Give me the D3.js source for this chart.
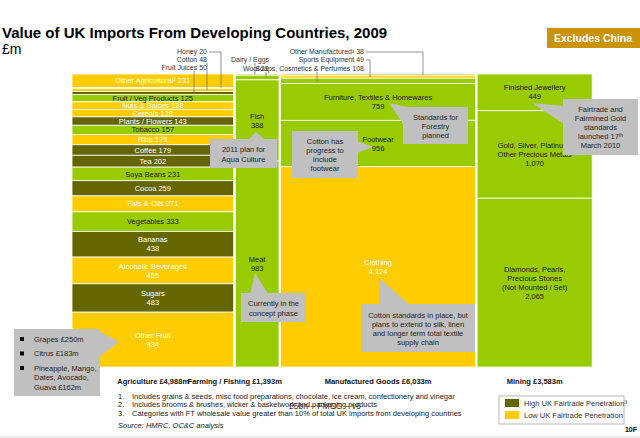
<!DOCTYPE html>
<html>
<head>
<meta charset="utf-8">
<script src="https://cdn.jsdelivr.net/npm/d3@7"></script>
<style>
  body { margin: 0; background: #fff; }
  text { font-family: "Liberation Sans", Arial, sans-serif; }
</style>
</head>
<body>
<div class="chart"></div>
<script>
// ---- data ----
let columnNames = ["Agriculture", "Farming / Fishing", "Manufactured Goods", "Mining"];
let columnTotals = [4988, 1393, 6033, 3583];

let agriNames = ["Other Agricultural¹", "Honey", "Cotton", "Fruit Juices", "Fruit / Veg Products",
  "Nuts & Spices", "Cereals", "Plants / Flowers", "Tobacco", "Rice", "Coffee", "Tea", "Soya Beans",
  "Cocoa", "Fats & Oils", "Vegetables", "Bananas", "Alcoholic Beverages", "Sugars", "Other Fruit"];
let agriValues = [231, 20, 48, 50, 125, 128, 128, 143, 157, 175, 179, 202, 231, 259, 271, 333, 438, 455, 483, 934];
let agriLevels = ["low", "low", "low", "high", "none", "low", "low", "high", "none", "low", "high",
  "high", "none", "high", "low", "none", "high", "low", "high", "low"];

let fishNames = ["Dairy / Eggs", "Wool", "Fish", "Meat"];
let fishValues = [6, 22, 388, 983];
let fishLevels = ["none", "none", "none", "none"];

let manuNames = ["Other Manufactured²", "Sports Equipment", "Soaps, Cosmetics & Perfumes",
  "Furniture, Textiles & Homewares", "Footwear", "Clothing"];
let manuValues = [38, 49, 108, 759, 956, 4124];
let manuLevels = ["low", "low", "none", "none", "none", "low"];

let miningNames = ["Finished Jewellery", "Gold, Silver, Platinum,\nOther Precious Metals",
  "Diamonds, Pearls,\nPrecious Stones\n(Not Mounted / Set)"];
let miningValues = [449, 1070, 2065];
let miningLevels = ["none", "none", "none"];

let legendLabels = ["High UK Fairtrade Penetration³", "Low UK Fairtrade Penetration"];
let footnotes = [
  "Includes grains & seeds, misc food preparations, chocolate, ice cream, confectionery and vinegar",
  "Includes brooms & brushes, wicker & basketwork and packaging products",
  "Categories with FT wholesale value greater than 10% of total UK imports from developing countries"
];
let otherFruitBullets = ["Grapes £250m", "Citrus £183m", "Pineapple, Mango,\nDates, Avocado,\nGuava £162m"];

// ---- layout ----
let svgW = 640, svgH = 438;
let plotTop = 74, plotBottom = 367, plotLeft = 72, plotRight = 593;

let color = d3.scaleOrdinal()
  .domain(["high", "low", "none"])
  .range(["#666600", "#FFCC00", "#99CC00"]);
let textColor = d3.scaleOrdinal()
  .domain(["high", "low", "none"])
  .range(["#ffffff", "#ffffff", "#1a1a1a"]);

let svg = d3.select(".chart").append("svg")
  .attr("width", svgW).attr("height", svgH);

// title
svg.append("text").attr("x", 2).attr("y", 38)
  .style("font-size", "15px").style("font-weight", "bold").attr("fill", "#000")
  .text("Value of UK Imports From Developing Countries, 2009");
svg.append("text").attr("x", 2).attr("y", 54)
  .style("font-size", "14px").attr("fill", "#000").text("£m");

// Excludes China badge
svg.append("rect").attr("x", 547).attr("y", 28).attr("width", 93).attr("height", 20).attr("fill", "#C9930A");
svg.append("text").attr("x", 593).attr("y", 42).attr("text-anchor", "middle")
  .style("font-size", "10.5px").style("font-weight", "bold").attr("fill", "#fff").text("Excludes China");

// ---- mosaic ----
let columns = [
  { names: agriNames, values: agriValues, levels: agriLevels },
  { names: fishNames, values: fishValues, levels: fishLevels },
  { names: manuNames, values: manuValues, levels: manuLevels },
  { names: miningNames, values: miningValues, levels: miningLevels }
];

let xScale = d3.scaleLinear()
  .domain([0, d3.sum(columnTotals)])
  .range([plotLeft, plotRight]);

let fmt = d3.format(",");
let segY = {}; // name -> segment geometry
let cum = 0;
let mosaic = svg.append("g");

columns.forEach(function(col, ci) {
  let x0 = xScale(cum) + (ci > 0 ? 0.8 : 0);
  let x1 = xScale(cum + columnTotals[ci]) - 0.8;
  cum += columnTotals[ci];
  let yScale = d3.scaleLinear().domain([0, d3.sum(col.values)]).range([plotTop, plotBottom]);
  let starts = d3.cumsum(col.values).map((c, i) => c - col.values[i]);
  let segs = col.names.map((n, i) => ({
    name: n, value: col.values[i], level: col.levels[i],
    y0: yScale(starts[i]), y1: yScale(starts[i] + col.values[i]), x0: x0, x1: x1
  }));

  let g = mosaic.append("g");
  g.selectAll("rect").data(segs).enter().append("rect")
    .attr("x", d => d.x0).attr("y", d => d.y0)
    .attr("width", d => d.x1 - d.x0).attr("height", d => d.y1 - d.y0)
    .attr("fill", d => color(d.level))
    .attr("stroke", "#fff").attr("stroke-width", 0.8);

  segs.forEach(function(d) {
    segY[d.name] = d;
    let h = d.y1 - d.y0;
    if (h < 6) return; // labelled outside with a leader line
    let lines;
    if (h < 22) lines = [d.name + " " + fmt(d.value)];
    else lines = d.name.split("\n").concat([fmt(d.value)]);
    let lh = 9;
    let cy = (d.y0 + d.y1) / 2 - (lines.length - 1) * lh / 2;
    let t = g.append("text")
      .attr("text-anchor", "middle")
      .style("font-size", "7.5px")
      .attr("fill", textColor(d.level));
    lines.forEach(function(l, li) {
      t.append("tspan").attr("x", (d.x0 + d.x1) / 2).attr("y", cy + li * lh).attr("dy", "0.35em").text(l);
    });
  });
});

// ---- outside labels with leader lines ----
function midY(name) { return (segY[name].y0 + segY[name].y1) / 2; }
let ann = svg.append("g");
function annText(x, y, anchor, txt) {
  ann.append("text").attr("x", x).attr("y", y).attr("dy", "0.35em").attr("text-anchor", anchor)
    .style("font-size", "7px").attr("fill", "#333").text(txt);
}
function leader(points) {
  ann.append("path").attr("d", d3.line()(points))
    .attr("fill", "none").attr("stroke", "#666").attr("stroke-width", 0.7);
}
annText(207, 52, "end", "Honey " + agriValues[1]);
annText(207, 60, "end", "Cotton " + agriValues[2]);
annText(207, 68, "end", "Fruit Juices " + agriValues[3]);
leader([[209, 52], [221, 52], [221, midY("Honey")]]);
leader([[207, 63], [207, midY("Cotton")]]);
leader([[194, 71], [194, midY("Fruit Juices")]]);

annText(250, 60, "middle", "Dairy / Eggs");
annText(243, 69, "start", "Wool " + fishValues[1]);
leader([[255, 63], [255, midY("Dairy / Eggs")]]);
leader([[266, 72], [266, midY("Wool")]]);

annText(364, 52, "end", "Other Manufactured² " + manuValues[0]);
annText(364, 60, "end", "Sports Equipment " + manuValues[1]);
annText(364, 69, "end", "Soaps, Cosmetics & Perfumes " + manuValues[2]);
leader([[366, 52], [423, 52], [423, midY("Other Manufactured²")]]);
leader([[366, 60], [370, 60], [370, midY("Sports Equipment")]]);
leader([[317, 72], [317, midY("Soaps, Cosmetics & Perfumes")]]);

// ---- callouts ----
let callG = svg.append("g");
function callout(bx, by, bw, bh, pointer, lines, lineY) {
  callG.append("rect").attr("x", bx).attr("y", by).attr("width", bw).attr("height", bh).attr("fill", "#C0C0C0");
  callG.append("path").attr("d", d3.line()(pointer) + "Z").attr("fill", "#C0C0C0");
  let t = callG.append("text").attr("text-anchor", "middle").style("font-size", "7.5px").attr("fill", "#222");
  lines.forEach(function(l, i) {
    t.append("tspan").attr("x", bx + bw / 2).attr("y", lineY[i]).attr("dy", "0.35em").text(l);
  });
  return t;
}
callout(210, 139, 67, 29, [[248, 140], [256, 132], [265, 140]], ["2011 plan for", "Aqua Culture"], [149, 159]);
callout(292, 131, 66, 47, [[357, 141], [373, 147], [357, 153]], ["Cotton has", "progress to", "include", "footwear"], [141, 150, 159, 168]);
callout(403, 107, 65, 37, [[412, 108], [389, 103], [404, 125]], ["Standards for", "Forestry", "planned"], [117, 126, 135]);
let ft = callout(563, 99, 75, 56, [[564, 106], [532, 103], [564, 124]],
  ["Fairtrade and", "Fairmined Gold", "standards", "launched 17", "March 2010"], [109, 118, 127, 136, 145]);
ft.selectAll("tspan").filter((d, i) => i === 3).append("tspan")
  .attr("dy", "-0.4em").style("font-size", "5px").text("th");
callout(241, 293, 65, 29, [[250, 294], [255, 273], [268, 294]], ["Currently in the", "concept phase"], [303, 313]);
callout(361, 304, 114, 48, [[379, 305], [379, 278], [410, 305]],
  ["Cotton standards in place, but", "plans to extend to silk, linen", "and longer term total textile", "supply chain"],
  [315, 324, 333, 342]);

// other fruit breakdown
callG.append("rect").attr("x", 14).attr("y", 329).attr("width", 86).attr("height", 67).attr("fill", "#C0C0C0");
callG.append("path").attr("d", d3.line()([[99, 331], [119, 342], [99, 357]]) + "Z").attr("fill", "#C0C0C0");
let by = 339;
otherFruitBullets.forEach(function(b) {
  callG.append("rect").attr("x", 20).attr("y", by - 2).attr("width", 4).attr("height", 4).attr("fill", "#000");
  b.split("\n").forEach(function(l, li) {
    callG.append("text").attr("x", 34).attr("y", by + li * 9.5).attr("dy", "0.35em")
      .style("font-size", "7.5px").attr("fill", "#222").text(l);
  });
  by += 14.5;
});

// ---- column labels ----
let catG = svg.append("g");
cum = 0;
columnNames.forEach(function(n, i) {
  let xa = xScale(cum), xb = xScale(cum + columnTotals[i]);
  cum += columnTotals[i];
  let t = catG.append("text").attr("y", 381).attr("dy", "0.35em")
    .style("font-size", "7.5px").style("font-weight", "bold").attr("fill", "#111")
    .text(n + " £" + fmt(columnTotals[i]) + "m");
  if (i === 1) t.attr("x", xb + 2).attr("text-anchor", "end");
  else t.attr("x", (xa + xb) / 2).attr("text-anchor", "middle");
});

// ---- footnotes ----
footnotes.forEach(function(f, i) {
  svg.append("text").attr("x", 118).attr("y", 396 + i * 8.5).attr("dy", "0.35em")
    .style("font-size", "7.5px").attr("fill", "#222").text((i + 1) + ".");
  svg.append("text").attr("x", 132).attr("y", 396 + i * 8.5).attr("dy", "0.35em")
    .style("font-size", "7.5px").attr("fill", "#222").text(f);
});
svg.append("text").attr("x", 118).attr("y", 425).attr("dy", "0.35em")
  .style("font-size", "7.5px").style("font-style", "italic").attr("fill", "#222")
  .text("Source: HMRC, OC&C analysis");
svg.append("text").attr("x", 289).attr("y", 406).attr("dy", "0.35em")
  .style("font-size", "8.5px").attr("fill", "#333").text("£5bn – FMCG – v6");

// ---- legend ----
let lg = svg.append("g");
lg.append("rect").attr("x", 499).attr("y", 396).attr("width", 125).attr("height", 28)
  .attr("fill", "#fff").attr("stroke", "#999").attr("stroke-width", 0.7);
legendLabels.forEach(function(l, i) {
  lg.append("rect").attr("x", 505).attr("y", 399 + i * 12).attr("width", 14).attr("height", 8)
    .attr("fill", color(i === 0 ? "high" : "low"));
  lg.append("text").attr("x", 524).attr("y", 403 + i * 12).attr("dy", "0.35em")
    .style("font-size", "7.5px").attr("fill", "#333").text(l);
});

svg.append("text").attr("x", 637).attr("y", 432).attr("text-anchor", "end")
  .style("font-size", "7px").style("font-weight", "bold").attr("fill", "#000").text("10F");
svg.append("rect").attr("x", 0).attr("y", 436).attr("width", svgW).attr("height", 2).attr("fill", "#ebebeb");
</script>
</body>
</html>
